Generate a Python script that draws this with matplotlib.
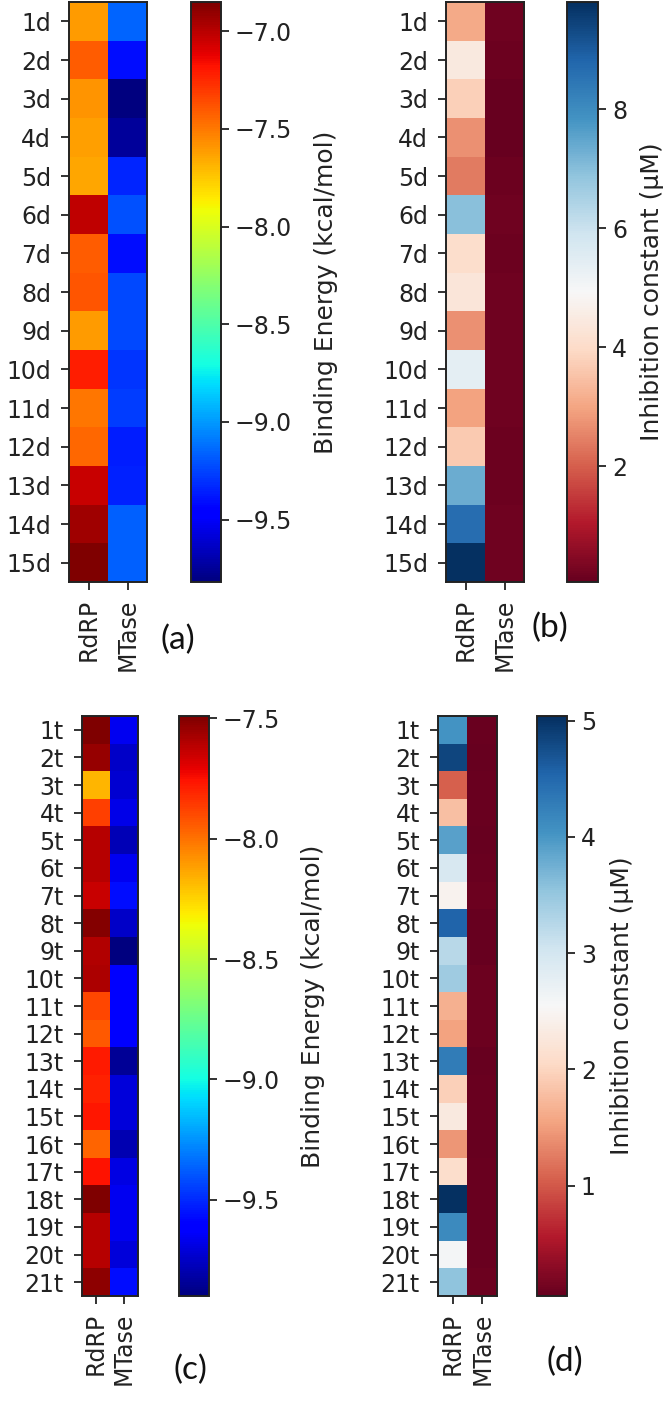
import numpy as np
import matplotlib
matplotlib.use("Agg")
import matplotlib.pyplot as plt

# ---------------- data ----------------
targets = ["RdRP", "MTase"]

di_labels = [f"{i}d" for i in range(1, 16)]
di_be_rdrp = [-7.61, -7.41, -7.59, -7.62, -7.65, -7.02, -7.41, -7.39, -7.61, -7.22,
              -7.49, -7.45, -7.04, -6.94, -6.85]
di_be_mtase = [-9.15, -9.41, -9.82, -9.75, -9.34, -9.21, -9.41, -9.23, -9.23, -9.29,
               -9.27, -9.36, -9.35, -9.17, -9.17]
di_ki_rdrp = [3.07, 4.44, 3.75, 2.68, 2.39, 6.97, 4.05, 4.34, 2.68, 5.41,
              2.98, 3.66, 7.36, 8.63, 9.80]
di_ki_mtase = [0.18, 0.13, 0.05, 0.08, 0.15, 0.17, 0.14, 0.19, 0.19, 0.17,
               0.17, 0.14, 0.15, 0.19, 0.19]

tri_labels = [f"{i}t" for i in range(1, 22)]
tri_be_rdrp = [-7.49, -7.54, -8.17, -7.87, -7.61, -7.61, -7.65, -7.50, -7.60, -7.59,
               -7.89, -7.94, -7.78, -7.80, -7.77, -7.97, -7.76, -7.49, -7.61, -7.61,
               -7.52]
tri_be_mtase = [-9.66, -9.74, -9.73, -9.68, -9.78, -9.66, -9.57, -9.74, -9.90, -9.62,
                -9.62, -9.62, -9.85, -9.71, -9.71, -9.79, -9.69, -9.66, -9.66, -9.71,
                -9.57]
tri_ki_rdrp = [4.04, 4.84, 1.05, 1.80, 3.89, 2.94, 2.45, 4.54, 3.24, 3.44,
               1.65, 1.55, 4.29, 1.95, 2.30, 1.45, 2.10, 5.04, 4.14, 2.60,
               3.54]
tri_ki_mtase = [0.08, 0.06, 0.07, 0.08, 0.06, 0.08, 0.10, 0.06, 0.05, 0.09,
                0.09, 0.09, 0.05, 0.07, 0.07, 0.06, 0.08, 0.08, 0.08, 0.07,
                0.10]

be_label = "Binding Energy (kcal/mol)"
ki_label = "Inhibition constant (\u00b5M)"

# ---------------- layout ----------------
W, H = 667, 1404
fig = plt.figure(figsize=(W / 100, H / 100), dpi=100)


def px_axes(x0, y0, x1, y1):
    return fig.add_axes([x0 / W, 1 - y1 / H, (x1 - x0) / W, (y1 - y0) / H])


def panel(hm_box, cb_box, rows, rdrp, mtase, cmap, ticks, clabel, lab_cx,
          letter, letter_xy):
    data = np.column_stack([rdrp, mtase])
    ax = px_axes(*hm_box)
    im = ax.imshow(data, cmap=cmap, vmin=data.min(), vmax=data.max(),
                   aspect="auto", interpolation="nearest")
    ax.set_yticks(range(len(rows)))
    ax.set_yticklabels(rows)
    ax.set_xticks(range(len(targets)))
    ax.set_xticklabels(targets, rotation=90)
    ax.tick_params(axis="y", length=6, width=1.3, pad=7, labelsize=17,
                   colors="#222222")
    ax.tick_params(axis="x", length=6, width=1.3, pad=6, labelsize=17,
                   colors="#222222")
    for s in ax.spines.values():
        s.set_linewidth(1.4)
        s.set_color("#222222")

    cax = px_axes(*cb_box)
    cb = fig.colorbar(im, cax=cax)
    cb.set_ticks(ticks)
    cax.tick_params(length=6, width=1.3, pad=4, labelsize=17, colors="#222222")
    cb.outline.set_linewidth(1.4)
    cb.outline.set_edgecolor("#222222")
    cb.set_label(clabel, fontsize=18, color="#222222")
    x0, x1 = cb_box[0], cb_box[2]
    cax.yaxis.set_label_coords((lab_cx - x0) / (x1 - x0), 0.5)
    cax.yaxis.label.set_verticalalignment("center")

    fig.text(letter_xy[0] / W, 1 - letter_xy[1] / H, letter, ha="center",
             va="center", fontsize=24, family="Lato", color="#111111")


panel((69, 2, 147, 582), (191, 2, 221, 582), di_labels, di_be_rdrp, di_be_mtase,
      "jet", [-7.0, -7.5, -8.0, -8.5, -9.0, -9.5], be_label, 326, "(a)", (178, 640))
panel((446, 2, 524, 582), (567, 2, 598, 582), di_labels, di_ki_rdrp, di_ki_mtase,
      "RdBu", [2, 4, 6, 8], ki_label, 652, "(b)", (550, 628))
panel((82, 716, 138, 1296), (179, 716, 209, 1296), tri_labels, tri_be_rdrp, tri_be_mtase,
      "jet", [-7.5, -8.0, -8.5, -9.0, -9.5], be_label, 313, "(c)", (190, 1370))
panel((438, 716, 497, 1296), (537, 716, 567, 1296), tri_labels, tri_ki_rdrp, tri_ki_mtase,
      "RdBu", [1, 2, 3, 4, 5], ki_label, 622, "(d)", (565, 1362))

fig.savefig("out.png", dpi=100)
